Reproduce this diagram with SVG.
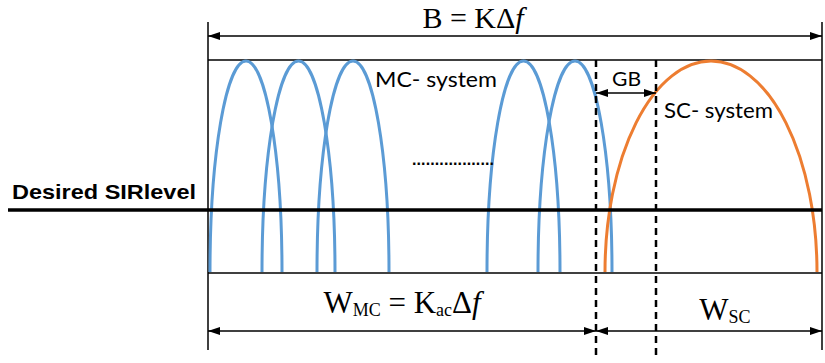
<svg xmlns="http://www.w3.org/2000/svg" width="825" height="363" viewBox="0 0 825 363">
<style>
.frame{stroke:#000;stroke-width:1.5;fill:none}
.dash{stroke:#000;stroke-width:2.5;stroke-dasharray:7 5;fill:none}
.blue{stroke:#5B9BD5;stroke-width:3;fill:none}
.orange{stroke:#ED7D31;stroke-width:3;fill:none}
.arr{stroke:#000;stroke-width:1.5;fill:none;marker-start:url(#ah);marker-end:url(#ah)}
.cal{font-family:Lato,"Open Sans",sans-serif;fill:#000}
.tnr{font-family:"Liberation Serif","Times New Roman",serif;fill:#000}
</style>
<defs>
<marker id="ah" viewBox="0 0 12 8" refX="12" refY="4" markerWidth="12" markerHeight="8" orient="auto-start-reverse" markerUnits="userSpaceOnUse">
<path d="M0,0 L12,4 L0,8 z" fill="#000"/>
</marker>
</defs>
<rect width="825" height="363" fill="#fff"/>
<g id="frame">
<line class="frame" x1="208" y1="22" x2="208" y2="350"/>
<line class="frame" x1="822" y1="22" x2="822" y2="350"/>
<line class="frame" x1="208" y1="60" x2="822" y2="60"/>
<line class="frame" x1="208" y1="273" x2="822" y2="273"/>
</g>
<g id="mc-system">
<path class="blue" d="M210,272 A36,211 0 0 1 282,272"/>
<path class="blue" d="M262,272 A36.5,211 0 0 1 335,272"/>
<path class="blue" d="M317,272 A36,211 0 0 1 389,272"/>
<path class="blue" d="M487,272 A36.5,211 0 0 1 560,272"/>
<path class="blue" d="M538,272 A37,211 0 0 1 612,272"/>
</g>
<g id="sc-system">
<path class="orange" d="M605,272 A106,211 0 0 1 817,272"/>
</g>
<g id="sir-level">
<line x1="8" y1="210" x2="822" y2="210" stroke="#000" stroke-width="3.5"/>
<text x="12" y="199" font-family="'Liberation Sans',Arial,sans-serif" font-weight="bold" font-size="21" textLength="184" lengthAdjust="spacingAndGlyphs">Desired SIRlevel</text>
</g>
<g id="guards">
<line class="dash" x1="596" y1="60" x2="596" y2="357"/>
<line class="dash" x1="656" y1="60" x2="656" y2="360"/>
</g>
<g id="connectors">
<line class="arr" x1="208" y1="36" x2="822" y2="36"/>
<line class="arr" x1="596" y1="93" x2="656" y2="93"/>
<line class="arr" x1="208" y1="331" x2="596" y2="331"/>
<line class="arr" x1="596" y1="331" x2="822" y2="331"/>
</g>
<g id="labels">
<text class="tnr" x="473" y="28" font-size="30" text-anchor="middle">B = KΔ<tspan font-style="italic">f</tspan></text>
<text class="cal" x="375" y="87" font-size="21" textLength="122" lengthAdjust="spacingAndGlyphs">MC- system</text>
<text class="cal" x="664" y="118" font-size="21" textLength="109" lengthAdjust="spacingAndGlyphs">SC- system</text>
<text class="cal" x="612" y="86" font-size="20" textLength="29" lengthAdjust="spacingAndGlyphs">GB</text>
<text x="412" y="165" font-family="'Liberation Sans',Arial,sans-serif" font-size="16" font-weight="bold" textLength="82" lengthAdjust="spacing">..................</text>
<text class="tnr" x="402" y="313" font-size="31" text-anchor="middle">W<tspan font-size="18" dy="3">MC</tspan><tspan dy="-3"> = K</tspan><tspan font-size="18" dy="3">ac</tspan><tspan dy="-3">Δ</tspan><tspan font-style="italic">f</tspan></text>
<text class="tnr" x="725" y="320" font-size="31" text-anchor="middle">W<tspan font-size="18" dy="3">SC</tspan></text>
</g>
</svg>
